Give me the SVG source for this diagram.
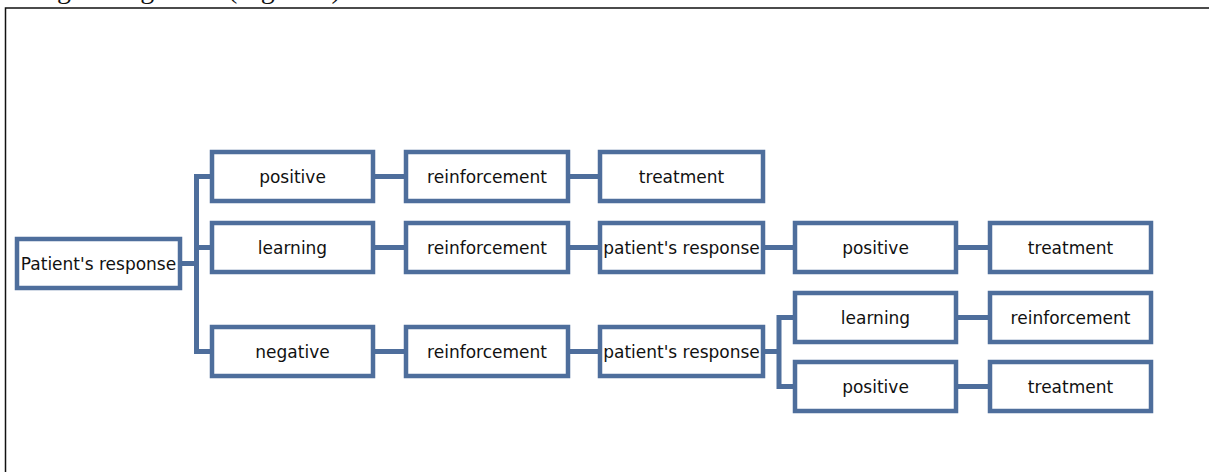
<svg xmlns="http://www.w3.org/2000/svg" width="1209" height="472" viewBox="0 0 1209 472">
<style>
.box{fill:#ffffff;stroke:#4e6e9c;stroke-width:4.5;}
.lbl{font-family:"DejaVu Sans",Verdana,sans-serif;font-size:17px;fill:#111;text-anchor:middle;}
.con{fill:none;stroke:#4e6e9c;stroke-width:5;}
.frame{fill:none;stroke:#111;stroke-width:1.5;}
</style>
<rect width="1209" height="472" fill="#ffffff"/>
<text font-family="'Liberation Serif',serif" font-size="28" fill="#111" y="-2.5"><tspan x="-38">following</tspan><tspan x="106">diagram</tspan><tspan x="228">(Figure 2)</tspan></text>
<path class="frame" d="M5.5 472 V8 H1209"/>
<g id="connectors">
<path class="con" d="M182 263.5 H196.5"/>
<path class="con" d="M212 176.5 H196.5 V351.5 H212"/>
<path class="con" d="M196.5 247.5 H212"/>
<path class="con" d="M375 176.5 H404"/>
<path class="con" d="M570 176.5 H598"/>
<path class="con" d="M375 247.5 H404"/>
<path class="con" d="M570 247.5 H598"/>
<path class="con" d="M765 247.5 H793"/>
<path class="con" d="M958 247.5 H988"/>
<path class="con" d="M375 351.5 H404"/>
<path class="con" d="M570 351.5 H598"/>
<path class="con" d="M765 351.5 H779"/>
<path class="con" d="M795 317.5 H779 V386.5 H795"/>
<path class="con" d="M958 317.5 H988"/>
<path class="con" d="M958 386.5 H988"/>
</g>
<g id="n-root"><rect class="box" x="17" y="239" width="163" height="49"/><text class="lbl" x="98.5" y="269.5">Patient's response</text></g>
<g id="n-positive1"><rect class="box" x="212" y="152" width="161" height="49"/><text class="lbl" x="292.5" y="182.5">positive</text></g>
<g id="n-reinf1"><rect class="box" x="406" y="152" width="162" height="49"/><text class="lbl" x="487" y="182.5">reinforcement</text></g>
<g id="n-treat1"><rect class="box" x="600" y="152" width="163" height="49"/><text class="lbl" x="681.5" y="182.5">treatment</text></g>
<g id="n-learning1"><rect class="box" x="212" y="223" width="161" height="49"/><text class="lbl" x="292.5" y="253.5">learning</text></g>
<g id="n-reinf2"><rect class="box" x="406" y="223" width="162" height="49"/><text class="lbl" x="487" y="253.5">reinforcement</text></g>
<g id="n-resp2"><rect class="box" x="600" y="223" width="163" height="49"/><text class="lbl" x="681.5" y="253.5">patient's response</text></g>
<g id="n-positive2"><rect class="box" x="795" y="223" width="161" height="49"/><text class="lbl" x="875.5" y="253.5">positive</text></g>
<g id="n-treat2"><rect class="box" x="990" y="223" width="161" height="49"/><text class="lbl" x="1070.5" y="253.5">treatment</text></g>
<g id="n-negative"><rect class="box" x="212" y="327" width="161" height="49"/><text class="lbl" x="292.5" y="357.5">negative</text></g>
<g id="n-reinf3"><rect class="box" x="406" y="327" width="162" height="49"/><text class="lbl" x="487" y="357.5">reinforcement</text></g>
<g id="n-resp3"><rect class="box" x="600" y="327" width="163" height="49"/><text class="lbl" x="681.5" y="357.5">patient's response</text></g>
<g id="n-learning3"><rect class="box" x="795" y="293" width="161" height="49"/><text class="lbl" x="875.5" y="323.5">learning</text></g>
<g id="n-reinf4"><rect class="box" x="990" y="293" width="161" height="49"/><text class="lbl" x="1070.5" y="323.5">reinforcement</text></g>
<g id="n-positive3"><rect class="box" x="795" y="362" width="161" height="49"/><text class="lbl" x="875.5" y="392.5">positive</text></g>
<g id="n-treat3"><rect class="box" x="990" y="362" width="161" height="49"/><text class="lbl" x="1070.5" y="392.5">treatment</text></g>
</svg>
